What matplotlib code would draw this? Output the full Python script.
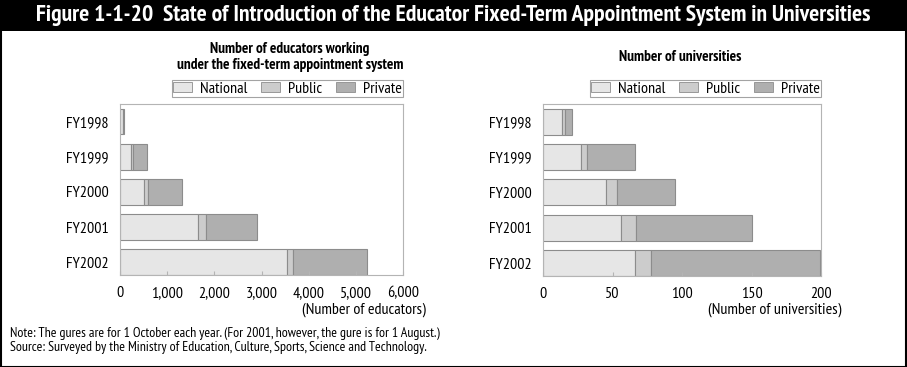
import matplotlib.pyplot as plt
from matplotlib.patches import Rectangle
from matplotlib.ticker import FuncFormatter

years = ["FY1998", "FY1999", "FY2000", "FY2001", "FY2002"]
series = ["National", "Public", "Private"]

# educators working under the fixed-term appointment system
edu_national = [65, 235, 510, 1650, 3545]
edu_public = [5, 40, 90, 170, 125]
edu_private = [15, 305, 720, 1075, 1575]

# universities
uni_national = [14, 27, 45, 56, 66]
uni_public = [2, 5, 8, 11, 12]
uni_private = [5, 34, 42, 83, 121]

colors = ["#e6e6e6", "#cccccc", "#afafaf"]
edge = "#8c8c8c"
plt.rcParams["font.family"] = ["PT Sans Narrow", "DejaVu Sans"]

W, H = 907, 367
fig = plt.figure(figsize=(W / 100, H / 100), dpi=100)


def px_axes(x0, y0, x1, y1):
    return fig.add_axes([x0 / W, 1 - y1 / H, (x1 - x0) / W, (y1 - y0) / H])


def draw_panel(ax, data, xmax, step, fmt, xlabel):
    height = 0.73
    y = list(range(len(years)))
    left = [0] * len(years)
    for vals, name, c in zip(data, series, colors):
        ax.barh(y, vals, left=left, height=height, color=c,
                edgecolor=edge, linewidth=0.8, label=name)
        left = [l + v for l, v in zip(left, vals)]
    ax.set_ylim(len(years) - 1 + height / 2, -0.5)
    ax.set_xlim(0, xmax)
    ax.set_xticks(list(range(0, xmax + 1, step)))
    ax.xaxis.set_major_formatter(FuncFormatter(fmt))
    ax.set_yticks(y)
    ax.set_yticklabels(years)
    for s in ax.spines.values():
        s.set_color("#b4b4b4")
        s.set_linewidth(0.8)
    ax.tick_params(axis="x", direction="in", length=3, color="#b4b4b4",
                   labelsize=11.5, pad=8)
    ax.tick_params(axis="y", length=0, labelsize=11.5, pad=8)
    ax.set_xlabel(xlabel, fontsize=11.5, labelpad=0)
    ax.xaxis.label.set_ha("right")
    ax.xaxis.label.set_va("center")
    leg = ax.legend(loc="lower right", bbox_to_anchor=(1.0, 1.04), ncol=3,
                    fontsize=11.5, frameon=True, fancybox=False,
                    handlelength=1.2, handleheight=0.55, handletextpad=0.45,
                    columnspacing=0.9, borderpad=0.1, borderaxespad=0)
    leg.get_frame().set_edgecolor("#8c8c8c")
    leg.get_frame().set_linewidth(0.8)
    for p in leg.get_patches():
        p.set_edgecolor(edge)
        p.set_linewidth(0.6)


ax1 = px_axes(120, 104, 403, 275)
draw_panel(ax1, [edu_national, edu_public, edu_private], 6000, 1000,
           lambda v, p: f"{int(v):,}", "(Number of educators)")
ax1.xaxis.set_label_coords((426 - 120) / 283, -35 / 171)

ax2 = px_axes(543, 104, 821, 276)
draw_panel(ax2, [uni_national, uni_public, uni_private], 200, 50,
           lambda v, p: f"{int(v)}", "(Number of universities)")
ax2.xaxis.set_label_coords((841 - 543) / 278, -34 / 172)

# title bar and frame
fig.patches.append(Rectangle((0, 1 - 31 / H), 1, 31 / H, transform=fig.transFigure,
                             facecolor="black", edgecolor="none", zorder=0))
fig.patches.append(Rectangle((0.5 / W, 0.5 / H), 1 - 1.5 / W, 1 - 1.5 / H,
                             transform=fig.transFigure, facecolor="none",
                             edgecolor="black", linewidth=1.5, zorder=1))
fig.text(0.5, 1 - 15 / H,
         "Figure 1-1-20  State of Introduction of the Educator Fixed-Term Appointment System in Universities",
         color="white", fontsize=17, fontweight="bold", ha="center", va="center")

fig.text(290 / W, 1 - 57 / H,
         "Number of educators working\nunder the fixed-term appointment system",
         fontsize=11, fontweight="bold", ha="center", va="center", linespacing=1.25)
fig.text(680 / W, 1 - 57 / H, "Number of universities",
         fontsize=11, fontweight="bold", ha="center", va="center")

fig.text(10 / W, 1 - 333 / H,
         "Note: The gures are for 1 October each year. (For 2001, however, the gure is for 1 August.)",
         fontsize=10, ha="left", va="center")
fig.text(10 / W, 1 - 348 / H,
         "Source: Surveyed by the Ministry of Education, Culture, Sports, Science and Technology.",
         fontsize=10, ha="left", va="center")

fig.savefig("out.png", dpi=100)
